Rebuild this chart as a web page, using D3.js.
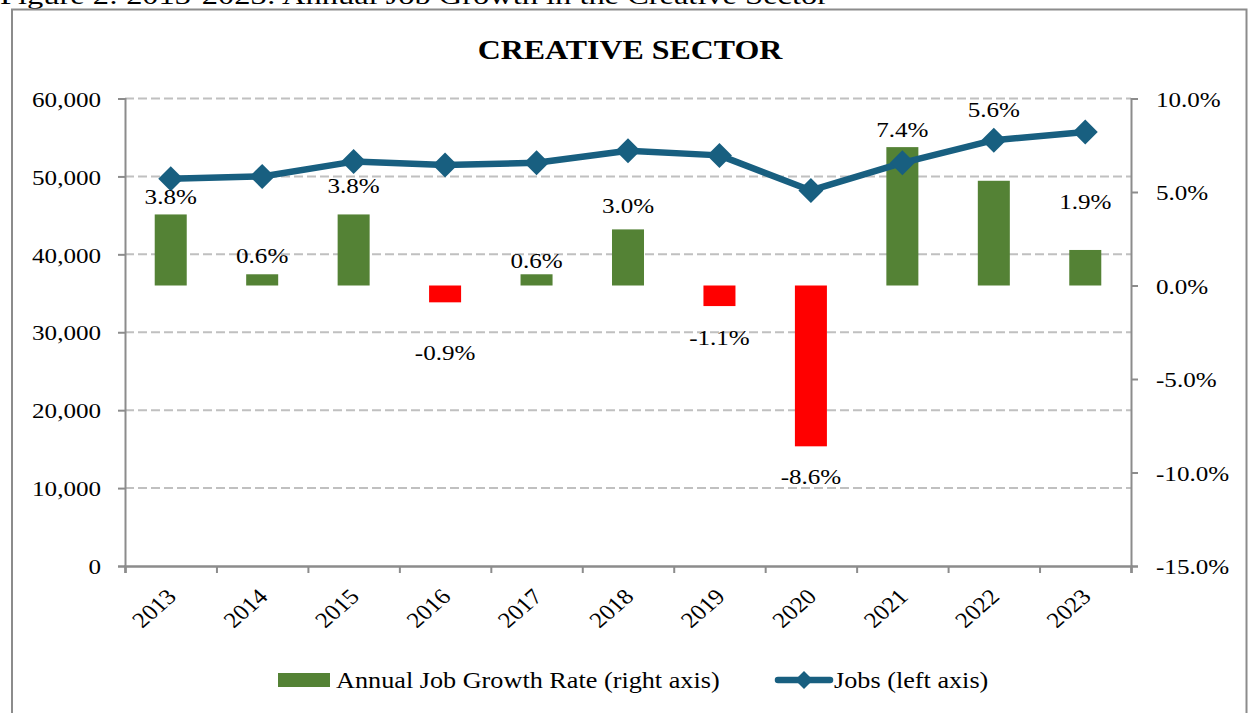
<!DOCTYPE html>
<html>
<head>
<meta charset="utf-8">
<script src="https://cdn.jsdelivr.net/npm/d3@7"></script>
<style>
  html, body { margin: 0; padding: 0; background: #ffffff; }
  svg { display: block; font-family: "Liberation Serif", "Times New Roman", serif; }
</style>
</head>
<body>
<svg id="chart" width="1249" height="713"></svg>
<script>
// ---- data ----
const years = ["2013","2014","2015","2016","2017","2018","2019","2020","2021","2022","2023"];
const jobs = [49700, 50000, 51900, 51450, 51750, 53300, 52700, 48200, 51750, 54650, 55700];
const growth = [3.8, 0.6, 3.8, -0.9, 0.6, 3.0, -1.1, -8.6, 7.4, 5.6, 1.9];
const labelAt = [4.76, 1.63, 5.37, -3.58, 1.36, 4.30, -2.78, -10.18, 8.36, 9.43, 4.48]; // label centre, in % units
const leftTicks = [0, 10000, 20000, 30000, 40000, 50000, 60000];
const rightTicks = [-15, -10, -5, 0, 5, 10];
const captionText = "Figure 2: 2013-2023: Annual Job Growth in the Creative Sector";
const titleText = "CREATIVE SECTOR";
const legendBar = "Annual Job Growth Rate (right axis)";
const legendLine = "Jobs (left axis)";

// ---- style ----
const SX = 1.14; // horizontal text stretch seen in the reference
const C_LINE = "#185f80", C_POS = "#548235", C_NEG = "#ff0000";
const C_AXIS = "#8c8c8c", C_GRID = "#c0c0c0";

const svg = d3.select("#chart");
svg.append("rect").attr("width", 1249).attr("height", 713).attr("fill", "#fff");

const M = { left: 125, right: 1131, top: 98.5, bottom: 566 };

const x = d3.scaleBand().domain(years).range([M.left, M.right]).padding(0);
const xb = d3.scaleLinear().domain([0, years.length]).range([M.left, M.right]);
const yL = d3.scaleLinear().domain([0, 60000]).range([M.bottom, M.top]);
const yR = d3.scaleLinear().domain([-15, 10]).range([M.bottom, M.top]);
const cx = d => x(d) + x.bandwidth() / 2;

function stretched(sel, px, py) {
  return sel.attr("transform", `translate(${px},${py}) scale(${SX},1)`);
}

// caption (clipped at the top) and frame
svg.append("text").attr("x", 0).attr("y", 4)
  .attr("font-size", 26).attr("fill", "#000")
  .attr("textLength", 828).attr("lengthAdjust", "spacingAndGlyphs")
  .text(captionText);
svg.append("rect").attr("x", 12).attr("y", 9.5).attr("width", 1234.5).attr("height", 720)
  .attr("fill", "none").attr("stroke", C_AXIS).attr("stroke-width", 2);

// title
stretched(svg.append("text"), 630, 59)
  .attr("text-anchor", "middle").attr("font-size", 28).attr("font-weight", "bold")
  .text(titleText);

// gridlines
svg.append("g").selectAll("line").data(leftTicks.filter(t => t > 0)).join("line")
  .attr("x1", M.left).attr("x2", M.right)
  .attr("y1", d => yL(d)).attr("y2", d => yL(d))
  .attr("stroke", C_GRID).attr("stroke-width", 2).attr("stroke-dasharray", "9,4");

// bars
svg.append("g").selectAll("rect").data(growth).join("rect")
  .attr("x", (d, i) => cx(years[i]) - x.bandwidth() * 0.175)
  .attr("width", x.bandwidth() * 0.35)
  .attr("y", d => yR(Math.max(0, d)))
  .attr("height", d => Math.abs(yR(d) - yR(0)))
  .attr("fill", d => d < 0 ? C_NEG : C_POS);

// axes
const axL = svg.append("g").attr("transform", `translate(${M.left},0)`)
  .call(d3.axisLeft(yL).tickValues(leftTicks).tickSize(7).tickPadding(0).tickFormat(d3.format(",")));
axL.select(".domain").attr("stroke", C_AXIS).attr("stroke-width", 2);
axL.selectAll(".tick line").attr("stroke", C_AXIS).attr("stroke-width", 2);
axL.selectAll(".tick text").attr("x", 0).attr("font-size", 22).attr("font-family", "Liberation Serif")
  .attr("fill", "#000").attr("dy", "0.35em")
  .attr("transform", `translate(-24,0) scale(${SX},1)`);

const axR = svg.append("g").attr("transform", `translate(${M.right},0)`)
  .call(d3.axisRight(yR).tickValues(rightTicks).tickSize(7).tickPadding(0).tickFormat(d => d.toFixed(1) + "%"));
axR.select(".domain").attr("stroke", C_AXIS).attr("stroke-width", 2);
axR.selectAll(".tick line").attr("stroke", C_AXIS).attr("stroke-width", 2);
axR.selectAll(".tick text").attr("x", 0).attr("font-size", 22).attr("font-family", "Liberation Serif")
  .attr("fill", "#000").attr("dy", "0.35em")
  .attr("transform", `translate(25,0) scale(${SX},1)`);

const axB = svg.append("g").attr("transform", `translate(0,${M.bottom})`)
  .call(d3.axisBottom(xb).tickValues(d3.range(years.length + 1)).tickSize(7).tickFormat(""));
axB.select(".domain").attr("stroke", C_AXIS).attr("stroke-width", 2.5);
axB.selectAll(".tick line").attr("stroke", C_AXIS).attr("stroke-width", 2);

// year labels
svg.append("g").selectAll("text").data(years).join("text")
  .attr("transform", d => `translate(${cx(d) + 7},${M.bottom + 32}) scale(${SX},1) rotate(-45)`)
  .attr("text-anchor", "end").attr("font-size", 22).text(d => d);

// line + diamonds
const line = d3.line().x((d, i) => cx(years[i])).y(d => yL(d));
svg.append("path").datum(jobs).attr("d", line)
  .attr("fill", "none").attr("stroke", C_LINE).attr("stroke-width", 6.5).attr("stroke-linejoin", "round");
const diamond = r => `M0,${-r}L${r},0L0,${r}L${-r},0Z`;
svg.append("g").selectAll("path").data(jobs).join("path")
  .attr("transform", (d, i) => `translate(${cx(years[i])},${yL(d)})`)
  .attr("d", diamond(12.5)).attr("fill", C_LINE);

// data labels
svg.append("g").selectAll("text").data(growth).join("text")
  .attr("transform", (d, i) => `translate(${cx(years[i])},${yR(labelAt[i])}) scale(${SX},1)`)
  .attr("text-anchor", "middle").attr("dy", "0.35em").attr("font-size", 22)
  .text(d => d.toFixed(1) + "%");

// legend
const lg = svg.append("g");
lg.append("rect").attr("x", 278).attr("y", 673).attr("width", 52).attr("height", 14).attr("fill", C_POS);
stretched(lg.append("text"), 336, 688).attr("font-size", 23).text(legendBar);
lg.append("line").attr("x1", 778).attr("x2", 830).attr("y1", 680).attr("y2", 680)
  .attr("stroke", C_LINE).attr("stroke-width", 6.5).attr("stroke-linecap", "round");
lg.append("path").attr("transform", "translate(804,680)").attr("d", diamond(9)).attr("fill", C_LINE);
stretched(lg.append("text"), 834, 688).attr("font-size", 23).text(legendLine);
</script>
</body>
</html>
